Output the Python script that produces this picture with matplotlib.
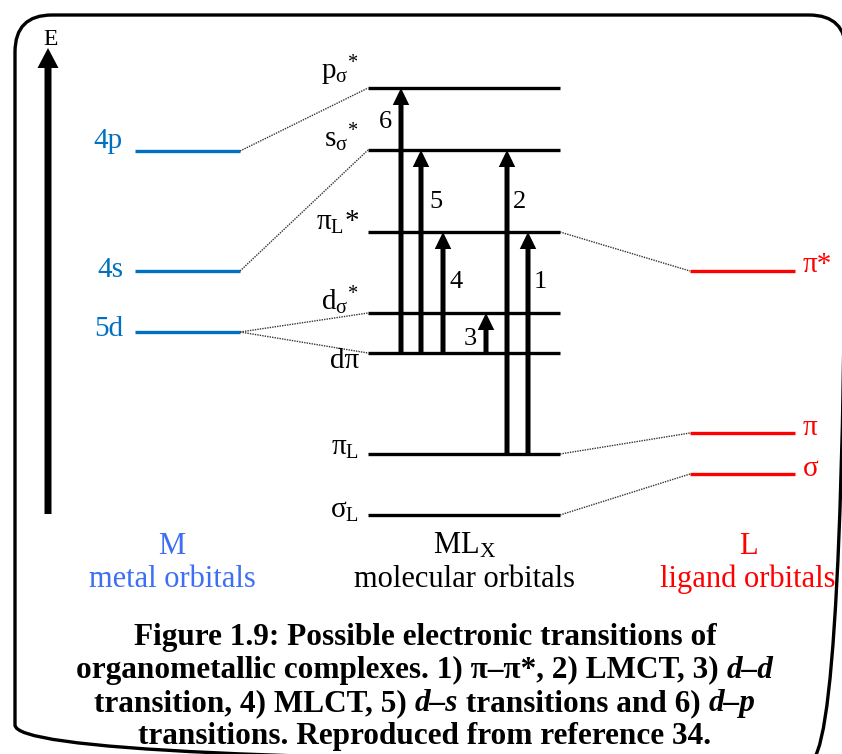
import matplotlib
matplotlib.use("Agg")
import matplotlib.pyplot as plt
from matplotlib.patches import FancyBboxPatch

plt.rcParams['font.family'] = ['Liberation Serif', 'DejaVu Serif']
plt.rcParams['mathtext.fontset'] = 'custom'
plt.rcParams['mathtext.rm'] = 'Liberation Serif'
plt.rcParams['mathtext.it'] = 'Liberation Serif:italic'
plt.rcParams['mathtext.default'] = 'regular'

BLUE = '#0070C0'
LBLUE = '#3d6ff2'
RED = '#ff0000'

# energy levels (y = pixel height on the page, smaller = higher energy)
metal_names = ['4p', '4s', '5d']
metal_E = [151, 271, 332]
mo_names = ['p$_{σ}{}^{*}$', 's$_{σ}{}^{*}$', 'π$_{L}$*', 'd$_{σ}{}^{*}$', 'dπ', 'π$_{L}$', 'σ$_{L}$']
mo_E = [88, 150, 232, 313, 353, 454, 515]
lig_names = ['π*', 'π', 'σ']
lig_E = [271, 433, 474]

# correlation lines: (metal index, mo index) and (mo index, ligand index)
metal_links = [(0, 0), (1, 1), (2, 3), (2, 4)]
lig_links = [(2, 0), (5, 1), (6, 2)]

# transitions: number, x slot, from MO, to MO
trans_num = ['6', '5', '4', '3', '2', '1']
trans_x = [401, 421, 443, 486, 507, 528]
trans_from = [4, 4, 4, 4, 5, 5]
trans_to = [0, 1, 2, 3, 1, 2]

caption = [
    [("Figure 1.9: Possible electronic transitions of", False)],
    [("organometallic complexes. 1) \u03c0\u2013\u03c0*, 2) LMCT, 3) ", False), ("d\u2013d", True)],
    [("transition, 4) MLCT, 5) ", False), ("d\u2013s", True), (" transitions and 6) ", False), ("d\u2013p", True)],
    [("transitions. Reproduced from reference 34.", False)],
]

fig = plt.figure(figsize=(8.42, 7.54), dpi=100)
ax = fig.add_axes([0, 0, 1, 1])
ax.set_xlim(0, 842)
ax.set_ylim(754, 0)
ax.axis('off')

# frame
ax.add_patch(FancyBboxPatch((15, 15), 831, 747, boxstyle='round,pad=0,rounding_size=37',
                            fc='none', ec='black', lw=2.4, zorder=1))

# energy axis
ax.arrow(48, 514, 0, 48 - 514, width=7, head_width=21, head_length=20,
         length_includes_head=True, color='black', lw=0)
ax.text(51, 45, 'E', ha='center', va='baseline', fontsize=17)

mx0, mx1 = 135, 240
ox0, ox1 = 368, 560
lx0, lx1 = 690, 795

metal_dy = [-3, 6, 4]
for n, e, dy in zip(metal_names, metal_E, metal_dy):
    ax.plot([mx0, mx1], [e, e], color=BLUE, lw=2.4, solid_capstyle='butt')
    ax.text(123, e + dy, n, color=BLUE, ha='right', va='baseline', fontsize=21)

mo_dy = [-9, -3, -2, -3, 15, 1, 3]
for n, e, dy in zip(mo_names, mo_E, mo_dy):
    ax.plot([ox0, ox1], [e, e], color='black', lw=2.4, solid_capstyle='butt')
    ax.text(359, e + dy, n, ha='right', va='baseline', fontsize=21)

lig_dy = [1, 2, 2]
for n, e, dy in zip(lig_names, lig_E, lig_dy):
    ax.plot([lx0, lx1], [e, e], color=RED, lw=2.4, solid_capstyle='butt')
    ax.text(803, e + dy, n, color=RED, ha='left', va='baseline', fontsize=21)

for mi, oi in metal_links:
    ax.plot([mx1, ox0], [metal_E[mi], mo_E[oi]], color='#333333', lw=1, ls=(0, (1, 0.8)))
for oi, li in lig_links:
    ax.plot([ox1, lx0], [mo_E[oi], lig_E[li]], color='#333333', lw=1, ls=(0, (1, 0.8)))

lab_pos = {'6': (385, 128), '5': (436, 208), '4': (456, 288),
           '3': (470, 345), '2': (520, 208), '1': (540, 288)}
for num, x, f, t in zip(trans_num, trans_x, trans_from, trans_to):
    y0, y1 = mo_E[f] + 1, mo_E[t]
    ax.arrow(x, y0, 0, y1 - y0, width=5, head_width=16.5, head_length=17,
             length_includes_head=True, color='black', lw=0, zorder=3)
    lx, ly = lab_pos[num]
    ax.text(lx, ly, num, ha='center', va='baseline', fontsize=19)

# column titles
ax.text(172, 554, 'M', color=LBLUE, ha='center', va='baseline', fontsize=22)
ax.text(172, 587, 'metal orbitals', color=LBLUE, ha='center', va='baseline', fontsize=22)
ax.text(465, 554, 'ML$_{X}$', ha='center', va='baseline', fontsize=22)
ax.text(465, 587, 'molecular orbitals', ha='center', va='baseline', fontsize=22)
ax.text(748, 554, 'L', color=RED, ha='center', va='baseline', fontsize=22)
ax.text(748, 587, 'ligand orbitals', color=RED, ha='center', va='baseline', fontsize=22)

# caption, made of runs with mixed italic
renderer = fig.canvas.get_renderer()
cap_y = [645, 678, 711, 744]
for runs, y in zip(caption, cap_y):
    items = []
    for s, it in runs:
        t = ax.text(0, y, s, fontsize=22.5, fontweight='bold',
                    fontstyle='italic' if it else 'normal', va='baseline', ha='left')
        items.append(t)
    widths = [t.get_window_extent(renderer).width for t in items]
    x = 425 - sum(widths) / 2
    for t, w in zip(items, widths):
        t.set_x(x)
        x += w

fig.savefig('out.png', dpi=100)
